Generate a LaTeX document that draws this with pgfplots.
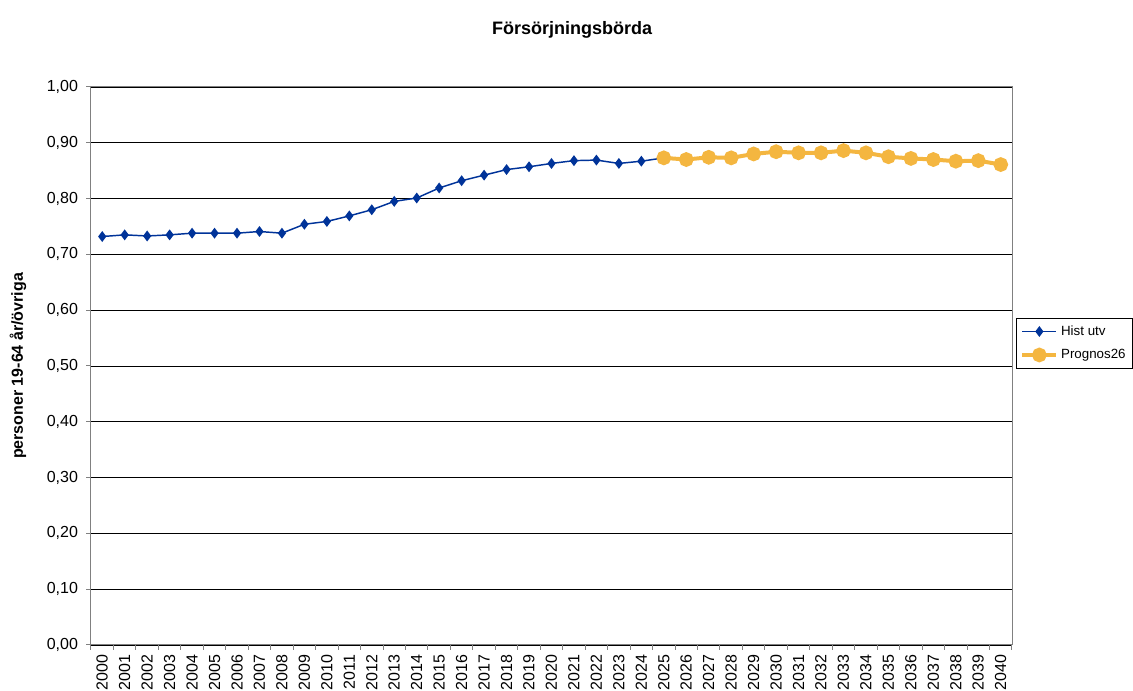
\documentclass[border=0pt]{standalone}
\usepackage{pgfplots}
\pgfplotsset{compat=1.18}
\usepackage{fontspec}
\setmainfont{Liberation Sans}
\definecolor{histblue}{RGB}{0,51,153}
\definecolor{progorange}{RGB}{244,182,64}
\definecolor{axgray}{RGB}{128,128,128}
\begin{document}
\begin{tikzpicture}[x=0.75pt,y=0.75pt]
\path[use as bounding box] (-91,-46) rectangle (1042,645);
\begin{axis}[
  at={(0,0)}, anchor=south west,
  scale only axis, width=690.75pt, height=418.5pt,
  xmin=1999.5, xmax=2040.5, ymin=0, ymax=1,
  xtick={2000,...,2040},
  minor xtick={1999.5,2000.5,...,2040.5},
  xtick pos=bottom, ytick pos=left,
  major x tick style={draw=none},
  minor x tick style={draw=axgray, line width=0.75pt},
  ytick={0,0.1,...,1.0001},
  y tick style={draw=axgray, line width=0.75pt},
  tick align=outside,
  major tick length=3.75pt, minor tick length=3.75pt,
  /pgf/number format/assume math mode=true,
  xticklabel style={rotate=90, anchor=east, font=\fontsize{12}{13}\selectfont, /pgf/number format/1000 sep={}},
  yticklabel style={xshift=-2.5pt, font=\fontsize{12}{13}\selectfont, /pgf/number format/.cd, fixed, fixed zerofill, precision=2, use comma},
  ymajorgrids, major grid style={black, line width=0.6pt},
  axis line style={axgray, line width=0.75pt},
  ylabel={personer 19-64 år/övriga},
  ylabel style={at={(axis description cs:-0.0793,0.5)}, anchor=center, rotate=0, font=\bfseries\fontsize{12}{13}\selectfont},
  title={Försörjningsbörda},
  title style={at={(axis description cs:0.5223,1.1057)}, anchor=center, yshift=-7.5pt, font=\bfseries\fontsize{13.5}{14}\selectfont},
  legend style={at={(axis description cs:1.0043,0.586)}, anchor=north west, draw=black, line width=0.5pt, font=\fontsize{10}{12}\selectfont, inner xsep=3pt, inner ysep=3.5pt, row sep=5pt},
  legend cell align=left,
  legend image code/.code={\draw[mark repeat=2,mark phase=2] plot coordinates {(0cm,0cm) (0.45cm,0cm) (0.9cm,0cm)};},
  clip=false,
]
\addplot[histblue, line width=1.1pt, mark=diamond*, mark size=3.2pt, mark options={solid, fill=histblue}] coordinates {
(2000,0.732) (2001,0.735) (2002,0.733) (2003,0.735) (2004,0.738) (2005,0.738) (2006,0.738) (2007,0.741) (2008,0.738) (2009,0.754) (2010,0.759) (2011,0.769) (2012,0.780) (2013,0.795) (2014,0.801) (2015,0.819) (2016,0.832) (2017,0.842) (2018,0.852) (2019,0.857) (2020,0.863) (2021,0.868) (2022,0.869) (2023,0.863) (2024,0.867) (2025,0.873)
};
\addlegendentry{Hist utv}
\addplot[progorange, line width=3pt, mark=*, mark size=4pt, mark options={solid, fill=progorange}] coordinates {
(2025,0.873) (2026,0.870) (2027,0.874) (2028,0.873) (2029,0.880) (2030,0.884) (2031,0.882) (2032,0.882) (2033,0.886) (2034,0.882) (2035,0.875) (2036,0.872) (2037,0.870) (2038,0.867) (2039,0.868) (2040,0.861)
};
\addlegendentry{Prognos26}
\end{axis}
\end{tikzpicture}
\end{document}
